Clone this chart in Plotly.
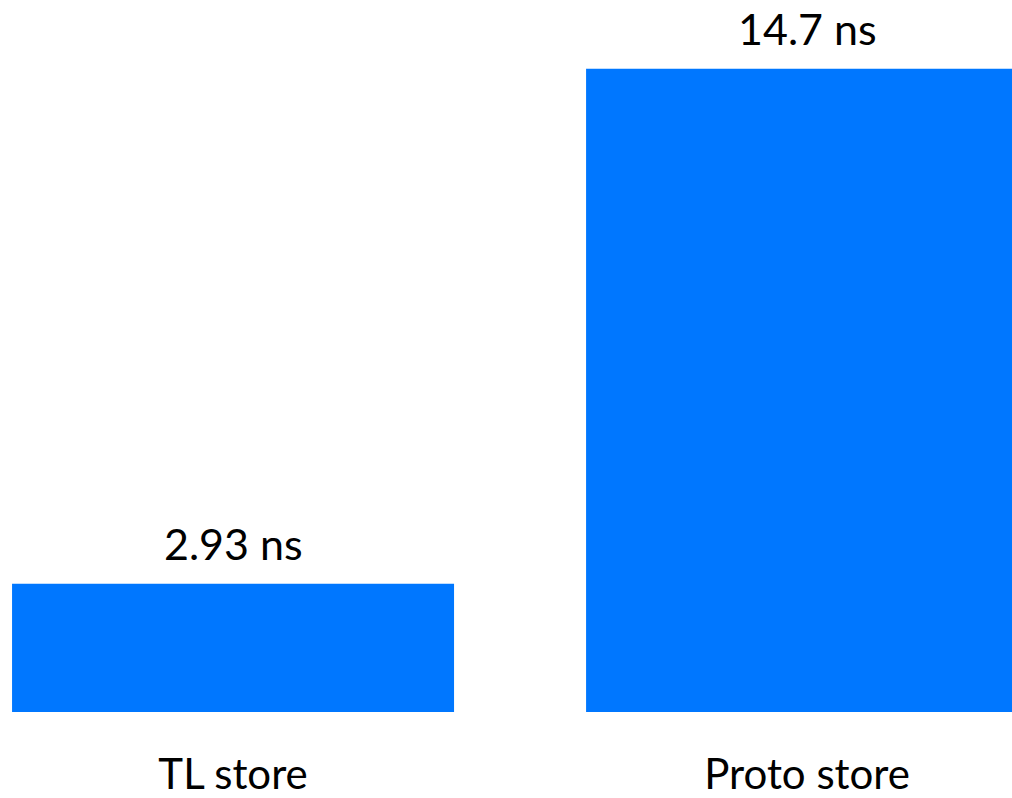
import plotly.graph_objects as go

categories = ["TL store", "Proto store"]
values = [2.93, 14.7]
labels = ["2.93 ns", "14.7 ns"]

BAR_COLOR = "#0077FF"
FONT = "Lato, Calibri, Carlito, sans-serif"

fig = go.Figure()
fig.add_trace(go.Bar(
    x=[0, 1],
    y=values,
    marker=dict(color=BAR_COLOR, line=dict(width=0)),
    width=0.77,
    hoverinfo="skip",
))

for i, (v, t) in enumerate(zip(values, labels)):
    fig.add_annotation(x=i, y=v, text=t, showarrow=False, xanchor="center",
                       yanchor="bottom", yshift=13,
                       font=dict(family=FONT, size=43, color="#000000"))

fig.update_layout(
    width=1012, height=798,
    margin=dict(l=0, r=0, t=0, b=82, pad=0),
    paper_bgcolor="white", plot_bgcolor="white",
    showlegend=False,
    xaxis=dict(range=[-0.406, 1.357], tickmode="array", tickvals=[0, 1],
               ticktext=categories, showgrid=False, zeroline=False, showline=False,
               ticks="", ticklabelstandoff=34,
               tickfont=dict(family=FONT, size=42, color="#000000")),
    yaxis=dict(range=[0, 716 / 44.0], visible=False, showgrid=False, zeroline=False),
)

fig.write_html("out.html")
